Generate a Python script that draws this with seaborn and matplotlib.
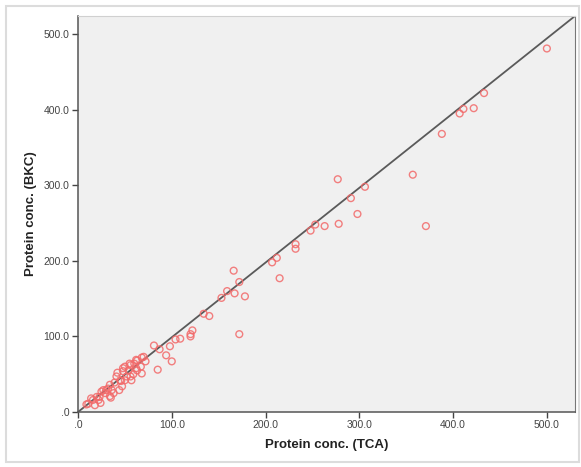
import matplotlib
matplotlib.use('Agg')
import matplotlib.pyplot as plt
from matplotlib.patches import Rectangle
from matplotlib.ticker import FuncFormatter
import seaborn as sns
import pandas as pd

###DATA (TCA vs BKC protein conc.)
tca = [500, 433, 422, 411, 407, 388, 357, 306, 277, 291, 298, 371, 278, 263, 253,
       248, 232, 232, 212, 207, 215, 166, 172, 159, 167, 178, 153, 134, 140, 122,
       120, 120, 172, 109, 104, 98, 81, 87, 94, 100, 85, 70,
       68, 72, 63, 60, 56, 67, 63, 59, 54, 48, 48, 56, 50, 46, 41, 39, 44, 34,
       35, 34, 30, 27, 25, 20, 22, 16, 18, 9, 24, 14,
       62, 55, 50, 62, 68, 52, 57, 45, 42, 47, 36, 32, 29, 38, 11, 23]
bkc = [481, 422, 402, 401, 395, 368, 314, 298, 308, 283, 262, 246, 249, 246, 248,
       240, 222, 216, 204, 198, 177, 187, 172, 160, 157, 153, 151, 130, 127, 108,
       103, 100, 103, 97, 96, 87, 88, 83, 75, 67, 56, 73,
       72, 67, 68, 64, 62, 60, 55, 50, 55, 54, 58, 47, 42, 41, 47, 39, 29, 36,
       19, 21, 29, 29, 27, 20, 16, 16, 9, 10, 12, 18,
       69, 64, 60, 58, 51, 47, 42, 42, 52, 34, 29, 31, 25, 25, 11, 20]
ref_x = [0, 530]
ref_y = [0, 524]
ticks = [0, 100, 200, 300, 400, 500]

df = pd.DataFrame({'TCA': tca, 'BKC': bkc})

sns.set_style('white')
plt.rcParams['font.family'] = ['Liberation Sans', 'DejaVu Sans']

fig = plt.figure(figsize=(5.81, 4.67), dpi=100)
ax = fig.add_axes([78 / 581, 1 - 412 / 467, (575 - 78) / 581, (412 - 16) / 467])
ax.set_facecolor('#f0f0f0')

# outer chart frame like the SPSS output
fig.patches.append(Rectangle((6 / 581, 5 / 467), 573 / 581, 456 / 467, transform=fig.transFigure,
                             fill=False, edgecolor='#dcdcdc', linewidth=1.5))

ax.plot(ref_x, ref_y, color='#5a5a5a', linewidth=1.3, zorder=2)
sns.scatterplot(data=df, x='TCA', y='BKC', ax=ax, marker='o', s=24,
                facecolors='none', edgecolor='#f26a6a', linewidth=1.0, alpha=0.85, zorder=3)

ax.set_xlim(ref_x[0], ref_x[1])
ax.set_ylim(ref_y[0], ref_y[1])
ax.set_xticks(ticks)
ax.set_yticks(ticks)
fmt = FuncFormatter(lambda v, p: ('%.1f' % v).lstrip('0') if v == 0 else '%.1f' % v)
ax.xaxis.set_major_formatter(fmt)
ax.yaxis.set_major_formatter(fmt)
ax.tick_params(axis='both', direction='out', length=4, width=1, color='#444444',
               labelsize=7.5, labelcolor='#444444', bottom=True, left=True, pad=2)

for side in ['left', 'bottom']:
    ax.spines[side].set_color('#555555')
    ax.spines[side].set_linewidth(1.1)
ax.spines['right'].set_color('#777777')
ax.spines['top'].set_color('#d0d0d0')

ax.set_xlabel('Protein conc. (TCA)', fontsize=9.5, fontweight='bold', color='#222222', labelpad=6)
ax.set_ylabel('Protein conc. (BKC)', fontsize=9.5, fontweight='bold', color='#222222', labelpad=5)

fig.savefig('out.png', dpi=100)
